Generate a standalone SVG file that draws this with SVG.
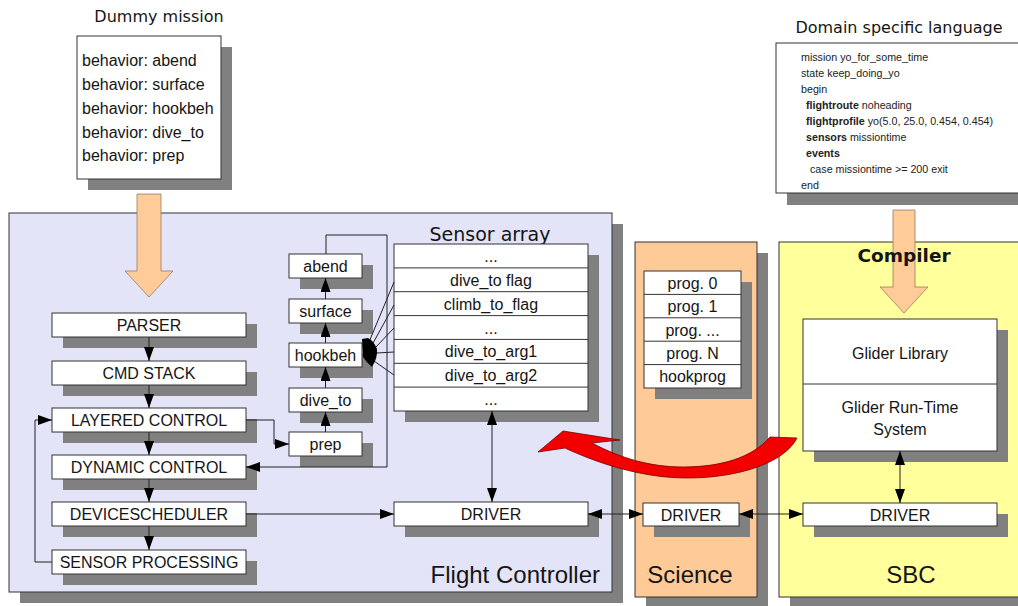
<svg xmlns="http://www.w3.org/2000/svg" width="1018" height="606" viewBox="0 0 1018 606">
  <defs>
    <style>
      .shadow { fill: #808080; }
      .box { fill: #ffffff; stroke: #333333; stroke-width: 1; }
      .lbl { font-family: "Liberation Sans", Arial, sans-serif; font-size: 16px; text-anchor: middle; fill: #151515; }
      .title { font-family: "DejaVu Sans", Verdana, sans-serif; fill: #151515; }
      .code { font-family: "Liberation Sans", Arial, sans-serif; font-size: 10.7px; fill: #222222; }
      .code b, .code .kw { font-weight: bold; }
      .big { font-family: "Liberation Sans", Arial, sans-serif; font-size: 24px; fill: #151515; }
      .conn { stroke: #222222; stroke-width: 1; fill: none; }
      .flow { fill: #ffcc99; stroke: #9a7a5a; stroke-width: 0.8; }
    </style>
    <marker id="arr" viewBox="0 0 14 10" refX="14" refY="5" markerWidth="14" markerHeight="10" markerUnits="userSpaceOnUse" orient="auto-start-reverse">
      <path d="M0,0 L14,5 L0,10 z" fill="#000000"/>
    </marker>
  </defs>

  <rect width="1018" height="606" fill="#ffffff"/>

  <!-- Containers -->
  <g id="flight-controller">
    <rect class="shadow" x="20" y="224" width="603" height="379"/>
    <rect x="9" y="213" width="603" height="379" fill="#e4e4f9" stroke="#333333" stroke-width="1"/>
    <text class="big" x="600" y="583" text-anchor="end">Flight Controller</text>
  </g>
  <g id="science">
    <rect class="shadow" x="646" y="253" width="122" height="355"/>
    <rect x="635" y="242" width="122" height="355" fill="#fecb98" stroke="#333333" stroke-width="1"/>
    <text class="big" x="690" y="583" text-anchor="middle">Science</text>
  </g>
  <g id="sbc">
    <rect class="shadow" x="790" y="253" width="250" height="355"/>
    <rect x="779" y="242" width="250" height="355" fill="#ffff9c" stroke="#333333" stroke-width="1"/>
    <text class="big" x="911" y="583" text-anchor="middle">SBC</text>
  </g>

  <!-- Mission description inputs -->
  <g id="dummy-mission">
    <text class="title" x="159" y="22" font-size="16" text-anchor="middle">Dummy mission</text>
    <rect class="shadow" x="88" y="47" width="144" height="143"/>
    <rect class="box" x="77" y="36" width="144" height="143"/>
    <g class="lbl" style="text-anchor:start">
      <text x="82" y="66">behavior: abend</text>
      <text x="82" y="90">behavior: surface</text>
      <text x="82" y="114">behavior: hookbeh</text>
      <text x="82" y="137.5">behavior: dive_to</text>
      <text x="82" y="161">behavior: prep</text>
    </g>
  </g>

  <g id="dsl">
    <text class="title" x="899" y="33" font-size="16" text-anchor="middle">Domain specific language</text>
    <rect class="shadow" x="787" y="54" width="260" height="151"/>
    <rect class="box" x="776" y="43" width="260" height="150"/>
    <text class="code" x="801" y="60.5">mission yo_for_some_time</text>
    <text class="code" x="801" y="76.5">state keep_doing_yo</text>
    <text class="code" x="801" y="92.5">begin</text>
    <text class="code" x="806" y="108.5"><tspan font-weight="bold">flightroute</tspan> noheading</text>
    <text class="code" x="806" y="124.5"><tspan font-weight="bold">flightprofile</tspan> yo(5.0, 25.0, 0.454, 0.454)</text>
    <text class="code" x="806" y="140.5"><tspan font-weight="bold">sensors</tspan> missiontime</text>
    <text class="code" x="806" y="156.5"><tspan font-weight="bold">events</tspan></text>
    <text class="code" x="810" y="172.5">case missiontime &gt;= 200 exit</text>
    <text class="code" x="801" y="188.5">end</text>
  </g>

  <!-- Flight controller pipeline -->
  <g id="parser">
    <rect class="shadow" x="63" y="324" width="194" height="24"/>
    <rect class="box" x="52" y="313" width="194" height="24"/>
    <text class="lbl" x="149" y="331">PARSER</text>
  </g>
  <g id="cmd-stack">
    <rect class="shadow" x="63" y="372" width="194" height="24"/>
    <rect class="box" x="52" y="361" width="194" height="24"/>
    <text class="lbl" x="149" y="379">CMD STACK</text>
  </g>
  <g id="layered-control">
    <rect class="shadow" x="63" y="419" width="194" height="24"/>
    <rect class="box" x="52" y="408" width="194" height="24"/>
    <text class="lbl" x="149" y="426">LAYERED CONTROL</text>
  </g>
  <g id="dynamic-control">
    <rect class="shadow" x="63" y="466" width="194" height="24"/>
    <rect class="box" x="52" y="455" width="194" height="24"/>
    <text class="lbl" x="149" y="473">DYNAMIC CONTROL</text>
  </g>
  <g id="devicescheduler">
    <rect class="shadow" x="63" y="513" width="194" height="24"/>
    <rect class="box" x="52" y="502" width="194" height="24"/>
    <text class="lbl" x="149" y="520">DEVICESCHEDULER</text>
  </g>
  <g id="sensor-processing">
    <rect class="shadow" x="63" y="561" width="194" height="24"/>
    <rect class="box" x="52" y="550" width="194" height="24"/>
    <text class="lbl" x="149" y="568">SENSOR PROCESSING</text>
  </g>

  <!-- Behavior stack -->
  <g id="abend">
    <rect class="shadow" x="300" y="265" width="73" height="24"/>
    <rect class="box" x="289" y="254" width="73" height="24"/>
    <text class="lbl" x="325.5" y="272">abend</text>
  </g>
  <g id="surface">
    <rect class="shadow" x="300" y="310" width="73" height="24"/>
    <rect class="box" x="289" y="299" width="73" height="24"/>
    <text class="lbl" x="325.5" y="317">surface</text>
  </g>
  <g id="hookbeh">
    <rect class="shadow" x="300" y="354" width="73" height="24"/>
    <rect class="box" x="289" y="343" width="73" height="24"/>
    <text class="lbl" x="325.5" y="361">hookbeh</text>
  </g>
  <g id="dive-to">
    <rect class="shadow" x="300" y="399" width="73" height="24"/>
    <rect class="box" x="289" y="388" width="73" height="24"/>
    <text class="lbl" x="325.5" y="406">dive_to</text>
  </g>
  <g id="prep">
    <rect class="shadow" x="300" y="443" width="73" height="24"/>
    <rect class="box" x="289" y="432" width="73" height="24"/>
    <text class="lbl" x="325.5" y="450">prep</text>
  </g>

  <!-- Sensor array -->
  <g id="sensor-array">
    <text class="title" x="490" y="241" font-size="19" text-anchor="middle">Sensor array</text>
    <rect class="shadow" x="405" y="255" width="194" height="167"/>
    <rect class="box" x="394" y="244" width="194" height="167"/>
    <g class="conn" style="stroke:#333333">
      <line x1="394" y1="267.9" x2="588" y2="267.9"/>
      <line x1="394" y1="291.7" x2="588" y2="291.7"/>
      <line x1="394" y1="315.6" x2="588" y2="315.6"/>
      <line x1="394" y1="339.4" x2="588" y2="339.4"/>
      <line x1="394" y1="363.3" x2="588" y2="363.3"/>
      <line x1="394" y1="387.1" x2="588" y2="387.1"/>
    </g>
    <text class="lbl" x="491" y="262">...</text>
    <text class="lbl" x="491" y="285.8">dive_to flag</text>
    <text class="lbl" x="491" y="309.6">climb_to_flag</text>
    <text class="lbl" x="491" y="333.5">...</text>
    <text class="lbl" x="491" y="357.3">dive_to_arg1</text>
    <text class="lbl" x="491" y="381.2">dive_to_arg2</text>
    <text class="lbl" x="491" y="405">...</text>
  </g>

  <g id="fc-driver">
    <rect class="shadow" x="405" y="513" width="194" height="24"/>
    <rect class="box" x="394" y="502" width="194" height="24"/>
    <text class="lbl" x="491" y="520">DRIVER</text>
  </g>

  <!-- Science programs -->
  <g id="programs">
    <rect class="shadow" x="655" y="282" width="97" height="117"/>
    <rect class="box" x="644" y="271" width="97" height="117"/>
    <g class="conn" style="stroke:#333333">
      <line x1="644" y1="294.4" x2="741" y2="294.4"/>
      <line x1="644" y1="317.8" x2="741" y2="317.8"/>
      <line x1="644" y1="341.2" x2="741" y2="341.2"/>
      <line x1="644" y1="364.6" x2="741" y2="364.6"/>
    </g>
    <text class="lbl" x="692.5" y="288.7">prog. 0</text>
    <text class="lbl" x="692.5" y="312.1">prog. 1</text>
    <text class="lbl" x="692.5" y="335.5">prog. ...</text>
    <text class="lbl" x="692.5" y="358.9">prog. N</text>
    <text class="lbl" x="692.5" y="382.3">hookprog</text>
  </g>
  <g id="science-driver">
    <rect class="shadow" x="654" y="514" width="96" height="23"/>
    <rect class="box" x="643" y="503" width="96" height="23"/>
    <text class="lbl" x="691" y="520.5">DRIVER</text>
  </g>

  <!-- SBC software -->
  <g id="glider-software">
    <rect class="shadow" x="814" y="330" width="194" height="132"/>
    <rect class="box" x="803" y="319" width="194" height="132"/>
    <line x1="803" y1="384" x2="997" y2="384" stroke="#333333" stroke-width="1"/>
    <text class="lbl" x="900" y="359" font-size="14.5px">Glider Library</text>
    <text class="lbl" x="900" y="413" font-size="14.5px">Glider Run-Time</text>
    <text class="lbl" x="900" y="435" font-size="14.5px">System</text>
  </g>
  <g id="sbc-driver">
    <rect class="shadow" x="814" y="514" width="194" height="23"/>
    <rect class="box" x="803" y="503" width="194" height="23"/>
    <text class="lbl" x="900" y="520.5">DRIVER</text>
  </g>

  <!-- Connectors -->
  <g id="connectors">
    <g class="conn">
      <line x1="149" y1="337" x2="149" y2="361" marker-end="url(#arr)"/>
      <line x1="149" y1="385" x2="149" y2="408" marker-end="url(#arr)"/>
      <line x1="149" y1="432" x2="149" y2="455" marker-end="url(#arr)"/>
      <line x1="149" y1="479" x2="149" y2="502" marker-end="url(#arr)"/>
      <line x1="149" y1="526" x2="149" y2="550" marker-end="url(#arr)"/>
      <polyline points="52,562 35,562 35,420 52,420" marker-end="url(#arr)"/>
      <polyline points="246,420 274,420 274,444 289,444" marker-end="url(#arr)"/>

      <line x1="325.5" y1="432" x2="325.5" y2="412" marker-end="url(#arr)"/>
      <line x1="325.5" y1="388" x2="325.5" y2="367" marker-end="url(#arr)"/>
      <line x1="325.5" y1="343" x2="325.5" y2="323" marker-end="url(#arr)"/>
      <line x1="325.5" y1="299" x2="325.5" y2="278" marker-end="url(#arr)"/>
      <polyline points="326,254 326,235 387,235 387,467 246,467" marker-end="url(#arr)"/>

      <line x1="394" y1="282" x2="369" y2="342"/>
      <line x1="394" y1="305" x2="372" y2="345"/>
      <line x1="394" y1="328" x2="375" y2="348"/>
      <line x1="394" y1="352" x2="377" y2="353"/>
      <line x1="394" y1="375" x2="374" y2="361"/>

      <line x1="492" y1="411" x2="492" y2="502" marker-start="url(#arr)" marker-end="url(#arr)"/>
      <line x1="246" y1="514" x2="394" y2="514" marker-end="url(#arr)"/>
      <line x1="588" y1="514" x2="643" y2="514" marker-start="url(#arr)" marker-end="url(#arr)"/>
      <line x1="739" y1="514" x2="803" y2="514" marker-start="url(#arr)" marker-end="url(#arr)"/>
      <line x1="900" y1="451" x2="900" y2="503" marker-start="url(#arr)" marker-end="url(#arr)"/>
    </g>
    <!-- converging arrowheads on hookbeh -->
    <path d="M362,339 L368,338 Q374,341 377,349 Q378,357 372,367 Q366,362 363,357 Z" fill="#000000"/>
  </g>

  <!-- Translation flows -->
  <g id="dummy-flow">
    <polygon class="flow" points="137,194 161,194 161,271 173,271 149,297 125,271 137,271"/>
  </g>
  <g id="compile-flow">
    <polygon class="flow" points="893,210 915,210 915,287 928,287 904,313 880,287 893,287"/>
  </g>
  <g id="compiler-label">
    <text class="title" x="904" y="262" font-size="18.5" font-weight="bold" text-anchor="middle" fill="#000000">Compiler</text>
  </g>
  <g id="deploy-flow">
    <path d="M538,452 L563,431 L620,440 L592,443 C620,458 650,467 683,467 C720,467 752,458 770,437 L797,438 C785,462 740,478 687,478 C640,478 595,462 565,448 Z" fill="#f20000" stroke="#7a0000" stroke-width="0.8"/>
  </g>
</svg>
